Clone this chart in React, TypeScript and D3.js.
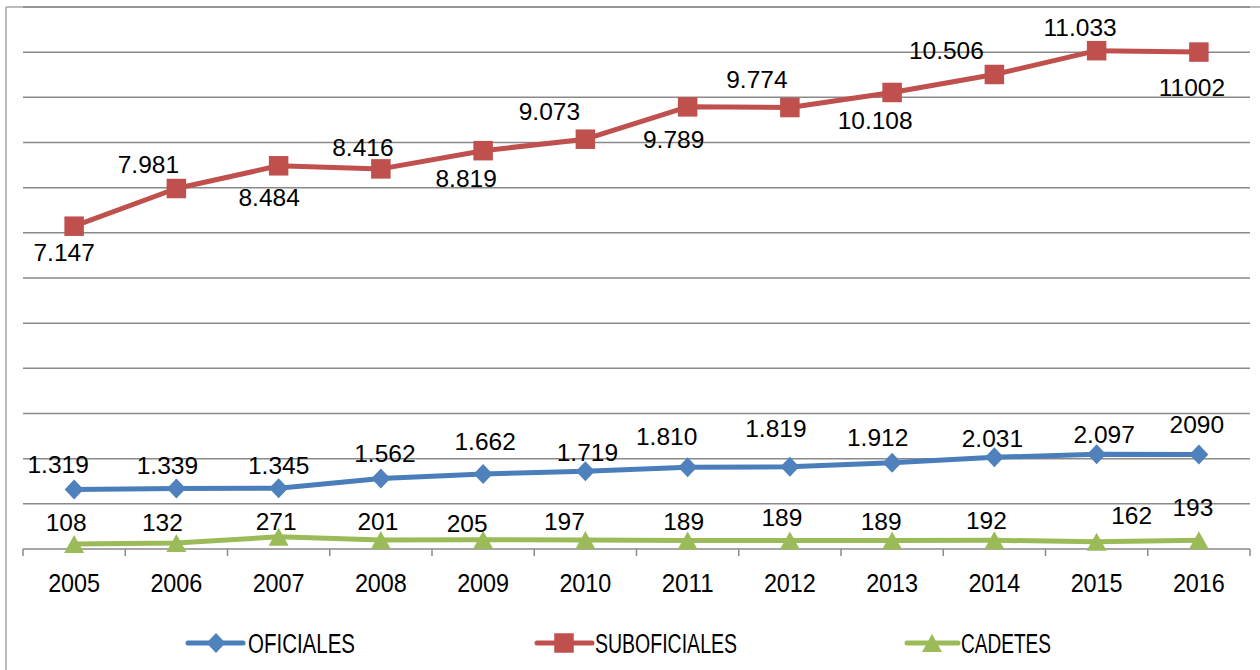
import React from 'react';
import * as d3 from 'd3';

// ---------- data ----------
const years = ['2005', '2006', '2007', '2008', '2009', '2010', '2011', '2012', '2013', '2014', '2015', '2016'];
const oficiales = [1319, 1339, 1345, 1562, 1662, 1719, 1810, 1819, 1912, 2031, 2097, 2090];
const suboficiales = [7147, 7981, 8484, 8416, 8819, 9073, 9789, 9774, 10108, 10506, 11033, 11002];
const cadetes = [108, 132, 271, 201, 205, 197, 189, 189, 189, 192, 162, 193];
const oficialesLabels = ['1.319', '1.339', '1.345', '1.562', '1.662', '1.719', '1.810', '1.819', '1.912', '2.031', '2.097', '2090'];
const suboficialesLabels = ['7.147', '7.981', '8.484', '8.416', '8.819', '9.073', '9.789', '9.774', '10.108', '10.506', '11.033', '11002'];
const cadetesLabels = ['108', '132', '271', '201', '205', '197', '189', '189', '189', '192', '162', '193'];
const yTicks = [0, 1000, 2000, 3000, 4000, 5000, 6000, 7000, 8000, 9000, 10000, 11000, 12000];
const seriesNames = ['OFICIALES', 'SUBOFICIALES', 'CADETES'];

// ---------- layout ----------
const W = 1260;
const H = 670;
const plot = { left: 23, right: 1250, top: 7, bottom: 549 };
// label centre offsets (dx, dy) relative to each point
const oficialesLabelOffsets: [number, number][] = [
  [-16, -25], [-9, -23.5], [0, -23], [4, -25], [2, -33], [2, -19],
  [-21, -31], [-14, -39], [-14.5, -25], [-2, -19], [7.5, -20], [-2, -30],
];
const suboficialesLabelOffsets: [number, number][] = [
  [-10, 26], [-28, -24.5], [-9.5, 31.5], [-18, -22], [-17, 28], [-36, -28.5],
  [-14, 32], [-33, -28], [-17, 27.5], [-48, -24], [-16.5, -23], [-7, 35],
];
const cadetesLabelOffsets: [number, number][] = [
  [-8, -22], [-14, -21], [-2.5, -16], [-3, -19], [-16, -17], [-21, -19],
  [-4, -19], [-8, -23], [-11, -19], [-8, -20], [35, -26], [-6, -33],
];

const colors = { ofi: '#4A7EBB', ofiMarker: '#4F81BD', sub: '#C0504D', cad: '#9BBB59' };
const gridColor = '#8a8a8a';
const labelFont = "'Liberation Sans', Arial, sans-serif";
const legendFont = "'Liberation Sans Narrow', 'Arial Narrow', 'Liberation Sans', sans-serif";

const diamond = 'M0,-10L9.5,0L0,10L-9.5,0Z';
const triangle = 'M0,-9L10,9L-10,9Z';

export default function App() {
  const x = d3.scaleBand<string>().domain(years).range([plot.left, plot.right]).padding(0);
  const y = d3.scaleLinear().domain([0, 12000]).range([plot.bottom, plot.top]);
  const cx = (i: number) => (x(years[i]) as number) + x.bandwidth() / 2;
  const line = d3
    .line<number>()
    .x((_, i) => cx(i))
    .y((d) => y(d));

  const boundaries = years.map((yr) => x(yr) as number).concat([plot.right]);

  const labelText = (
    vals: number[],
    labels: string[],
    offs: [number, number][],
    key: string
  ) =>
    vals.map((v, i) => (
      <text
        key={key + i}
        x={cx(i) + offs[i][0]}
        y={y(v) + offs[i][1] + 8.8}
        textAnchor="middle"
        fontFamily={labelFont}
        fontSize={24.5}
        fill="#000"
      >
        {labels[i]}
      </text>
    ));

  const legendY = 643;
  const legendItems = [
    { name: seriesNames[0], x1: 188, x2: 243, mx: 216, tx: 248, tw: 107, color: colors.ofi, marker: 'diamond', mc: colors.ofiMarker },
    { name: seriesNames[1], x1: 537, x2: 592, mx: 564, tx: 595, tw: 142, color: colors.sub, marker: 'square', mc: colors.sub },
    { name: seriesNames[2], x1: 907, x2: 958, mx: 932, tx: 961, tw: 90, color: colors.cad, marker: 'triangle', mc: colors.cad },
  ];

  const marker = (kind: string, color: string, key: string, tx: number, ty: number) => {
    if (kind === 'diamond')
      return <path key={key} d={diamond} transform={`translate(${tx},${ty})`} fill={color} />;
    if (kind === 'square')
      return <rect key={key} x={tx - 9.75} y={ty - 9.75} width={19.5} height={19.5} fill={color} />;
    return <path key={key} d={triangle} transform={`translate(${tx},${ty})`} fill={color} />;
  };

  return (
    <svg
      width={W}
      height={H}
      style={{ position: 'absolute', left: 0, top: 0, background: '#fff' }}
    >
      <rect x={0} y={0} width={W} height={H} fill="#fff" />
      {/* outer border */}
      <line x1={6} y1={7} x2={W} y2={7} stroke="#a6a6a6" strokeWidth={1.5} />
      <line x1={6} y1={7} x2={6} y2={H} stroke="#a6a6a6" strokeWidth={1.5} />

      {/* gridlines */}
      {yTicks.map((t) => (
        <line
          key={'g' + t}
          x1={plot.left}
          x2={plot.right}
          y1={y(t)}
          y2={y(t)}
          stroke={gridColor}
          strokeWidth={1.5}
        />
      ))}
      {/* axis ticks */}
      {boundaries.map((b, i) => (
        <line key={'t' + i} x1={b} x2={b} y1={plot.bottom} y2={plot.bottom + 7} stroke={gridColor} strokeWidth={1.5} />
      ))}
      {years.map((yr, i) => (
        <text
          key={'x' + yr}
          x={cx(i) - 26}
          y={592}
          fontFamily={labelFont}
          fontSize={26}
          textLength={52}
          lengthAdjust="spacingAndGlyphs"
          fill="#000"
        >
          {yr}
        </text>
      ))}

      {/* lines */}
      <path d={line(oficiales) || ''} fill="none" stroke={colors.ofi} strokeWidth={5} strokeLinejoin="round" />
      <path d={line(suboficiales) || ''} fill="none" stroke={colors.sub} strokeWidth={5} strokeLinejoin="round" />
      <path d={line(cadetes) || ''} fill="none" stroke={colors.cad} strokeWidth={5} strokeLinejoin="round" />

      {/* markers */}
      {oficiales.map((v, i) => marker('diamond', colors.ofiMarker, 'mo' + i, cx(i), y(v)))}
      {suboficiales.map((v, i) => marker('square', colors.sub, 'ms' + i, cx(i), y(v)))}
      {cadetes.map((v, i) => marker('triangle', colors.cad, 'mc' + i, cx(i), y(v)))}

      {/* labels */}
      {labelText(oficiales, oficialesLabels, oficialesLabelOffsets, 'lo')}
      {labelText(suboficiales, suboficialesLabels, suboficialesLabelOffsets, 'ls')}
      {labelText(cadetes, cadetesLabels, cadetesLabelOffsets, 'lc')}

      {/* legend */}
      {legendItems.map((it) => (
        <g key={'leg' + it.name}>
          <line x1={it.x1} x2={it.x2} y1={legendY} y2={legendY} stroke={it.color} strokeWidth={5} strokeLinecap="round" />
          {marker(it.marker, it.mc, 'lm' + it.name, it.mx, legendY)}
          <text
            x={it.tx}
            y={legendY + 10}
            fontFamily={legendFont}
            fontSize={27}
            textLength={it.tw}
            lengthAdjust="spacingAndGlyphs"
            fill="#000"
          >
            {it.name}
          </text>
        </g>
      ))}
    </svg>
  );
}
